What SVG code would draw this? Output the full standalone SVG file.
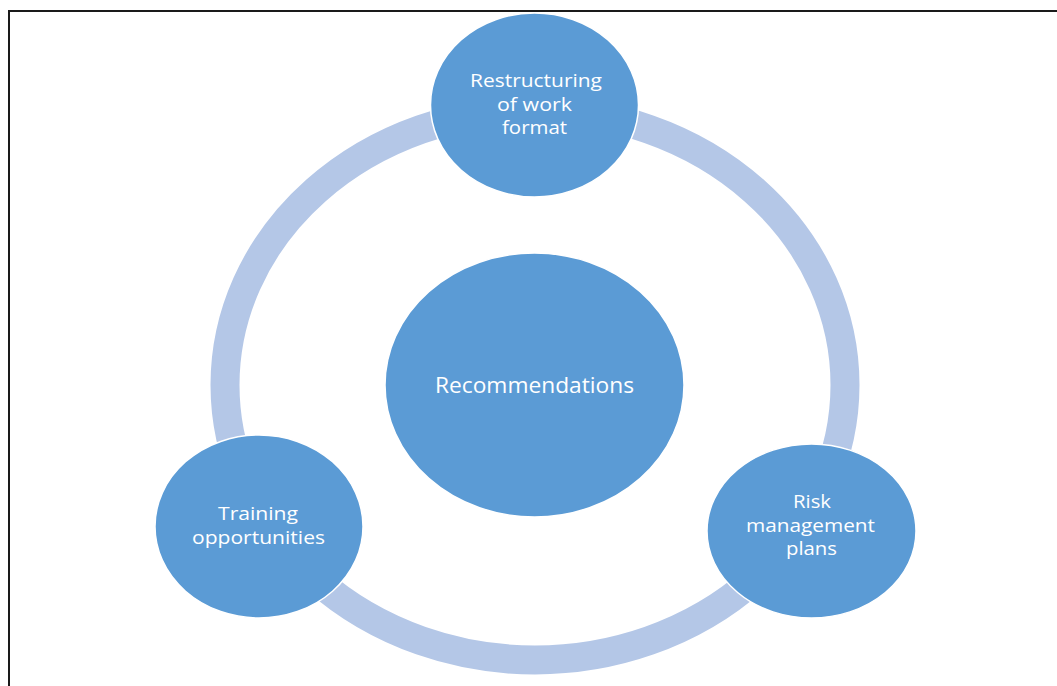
<svg xmlns="http://www.w3.org/2000/svg" width="1057" height="686" viewBox="0 0 1057 686">
  <style>
    .frame { fill: none; stroke: #1a1a1a; stroke-width: 2; }
    .ring { fill: none; stroke: #b4c7e7; stroke-width: 29; }
    .bubble { fill: #5b9bd5; stroke: #ffffff; stroke-width: 1.5; }
    .label { fill: #ffffff; font-family: "Open Sans", "Lato", sans-serif; text-anchor: middle; font-variant-ligatures: none; }
    .small { font-size: 19px; }
    .big { font-size: 21.5px; }
  </style>
  <rect width="1057" height="686" fill="#ffffff"/>
  <!-- page frame: top and left edges only -->
  <path class="frame" d="M9,690 L9,11 L1060,11"/>

  <g id="connectors">
    <ellipse class="ring" cx="535" cy="385" rx="310" ry="275"/>
  </g>

  <g id="node-center">
    <ellipse class="bubble" cx="534.5" cy="385" rx="149.5" ry="132"/>
    <text class="label big" x="534.5" y="393" textLength="199" lengthAdjust="spacingAndGlyphs">Recommendations</text>
  </g>

  <g id="node-restructuring">
    <ellipse class="bubble" cx="534.5" cy="105" rx="104" ry="92"/>
    <text class="label small" x="536" y="87" textLength="132" lengthAdjust="spacingAndGlyphs">Restructuring</text>
    <text class="label small" x="534.5" y="110.5" textLength="75" lengthAdjust="spacingAndGlyphs">of work</text>
    <text class="label small" x="534.5" y="134" textLength="65" lengthAdjust="spacingAndGlyphs">format</text>
  </g>

  <g id="node-risk">
    <ellipse class="bubble" cx="811.5" cy="531" rx="104.5" ry="87"/>
    <text class="label small" x="812" y="508" textLength="38" lengthAdjust="spacingAndGlyphs">Risk</text>
    <text class="label small" x="810.5" y="531.5" textLength="129" lengthAdjust="spacingAndGlyphs">management</text>
    <text class="label small" x="811.5" y="555" textLength="51" lengthAdjust="spacingAndGlyphs">plans</text>
  </g>

  <g id="node-training">
    <ellipse class="bubble" cx="259" cy="526.5" rx="104" ry="91.5"/>
    <text class="label small" x="258" y="520" textLength="80" lengthAdjust="spacingAndGlyphs">Training</text>
    <text class="label small" x="258.5" y="544" textLength="133" lengthAdjust="spacingAndGlyphs">opportunities</text>
  </g>
</svg>
